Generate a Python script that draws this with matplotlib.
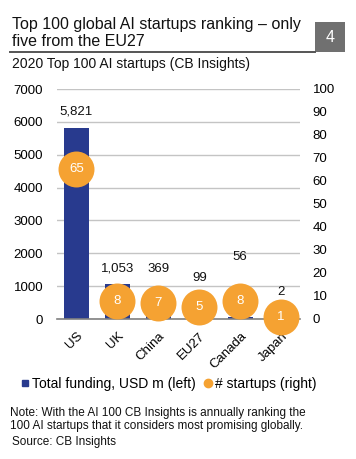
import matplotlib
matplotlib.use("Agg")
import matplotlib.pyplot as plt
from matplotlib.lines import Line2D
from matplotlib.patches import Rectangle

plt.rcParams['font.family'] = ['Liberation Sans', 'DejaVu Sans']

categories = ["US", "UK", "China", "EU27", "Canada", "Japan"]
funding = [5821, 1053, 369, 99, 56, 2]
funding_labels = ["5,821", "1,053", "369", "99", "56", "2"]
startups = [65, 8, 7, 5, 8, 1]
label_heights = [6320, 1550, 1530, 1250, 1900, 820]
left_ticks = [0, 1000, 2000, 3000, 4000, 5000, 6000, 7000]
right_ticks = [0, 10, 20, 30, 40, 50, 60, 70, 80, 90, 100]

NAVY = "#283a8e"
ORANGE = "#f5a232"
W, H = 356, 459

fig = plt.figure(figsize=(W / 100, H / 100), dpi=100)
fig.patch.set_facecolor("white")

def fx(x):
    return x / W

def fy(y):
    return 1 - y / H

ax = fig.add_axes([fx(57), fy(319), (300 - 57) / W, (319 - 89) / H])
ax2 = ax.twinx()

x = list(range(len(categories)))
ax.set_axisbelow(True)
ax.bar(x, funding, width=0.61, color=NAVY, zorder=2)
ax.set_ylim(0, 7000)
ax.set_yticks(left_ticks)
ax.set_yticklabels([str(t) for t in left_ticks])
ax.grid(axis="y", color="#c4c4c4", linewidth=1.0, zorder=0)
ax.set_xlim(-0.475, 5.46)
ax.set_xticks(x)
ax.set_xticklabels(categories, rotation=45, ha="right", va="top", rotation_mode="anchor")
ax.tick_params(axis="x", length=0, pad=8, labelsize=9.5)
ax.tick_params(axis="y", length=0, pad=10, labelsize=9.5)
for s in ["left", "right", "top"]:
    ax.spines[s].set_visible(False)
ax.spines["bottom"].set_color("#808080")
ax.spines["bottom"].set_linewidth(1.2)
ax.spines["bottom"].set_zorder(3)

for xi, lab, h in zip(x, funding_labels, label_heights):
    ax.text(xi, h, lab, ha="center", va="center", fontsize=9.5, color="#111111", zorder=5)

ax2.set_ylim(0, 100)
ax2.set_yticks(right_ticks)
ax2.tick_params(axis="y", length=0, pad=9, labelsize=9.5)
for s in ["left", "right", "top", "bottom"]:
    ax2.spines[s].set_visible(False)
ax2.plot(x, startups, ls="", marker="o", markersize=25.9, color=ORANGE,
         markeredgewidth=0, clip_on=False, zorder=4)
for xi, v in zip(x, startups):
    ax2.text(xi, v, str(v), ha="center", va="center", color="white", fontsize=9.5, zorder=6)

# Title block
fig.text(fx(12), fy(28.5), "Top 100 global AI startups ranking \u2013 only",
         ha="left", va="baseline", fontsize=11.5, color="#111111")
fig.text(fx(12), fy(45.5), "five from the EU27",
         ha="left", va="baseline", fontsize=11.5, color="#111111")
fig.add_artist(Line2D([fx(10), fx(315)], [fy(51.5), fy(51.5)], color="#555555", linewidth=1.4))
fig.add_artist(Rectangle((fx(315), fy(51.5)), 30 / W, 29.5 / H, facecolor="#707070",
                         edgecolor="none"))
fig.text(fx(330), fy(37), "4", ha="center", va="center", fontsize=11.5, color="white")
fig.text(fx(12), fy(68.3), "2020 Top 100 AI startups (CB Insights)", ha="left", va="baseline",
         fontsize=10, color="#111111")

# Legend
handles = [Line2D([], [], ls="", marker="s", markersize=5, color=NAVY),
           Line2D([], [], ls="", marker="o", markersize=6, color=ORANGE)]
fig.legend(handles, ["Total funding, USD m (left)", "# startups (right)"],
           loc="center", bbox_to_anchor=(fx(169), fy(384)), ncol=2, frameon=False,
           fontsize=10, handlelength=0.5, handletextpad=0.3, columnspacing=0.6,
           borderpad=0, borderaxespad=0)

fig.text(fx(10), fy(412.7), "Note: With the AI 100 CB Insights is annually ranking the",
         ha="left", va="center", fontsize=8.5, color="#111111")
fig.text(fx(10), fy(426.5), "100 AI startups that it considers most promising globally.",
         ha="left", va="center", fontsize=8.5, color="#111111")
fig.text(fx(12), fy(441.5), "Source: CB Insights", ha="left", va="center", fontsize=8.5,
         color="#111111")

fig.savefig("out.png", dpi=100, facecolor="white")
